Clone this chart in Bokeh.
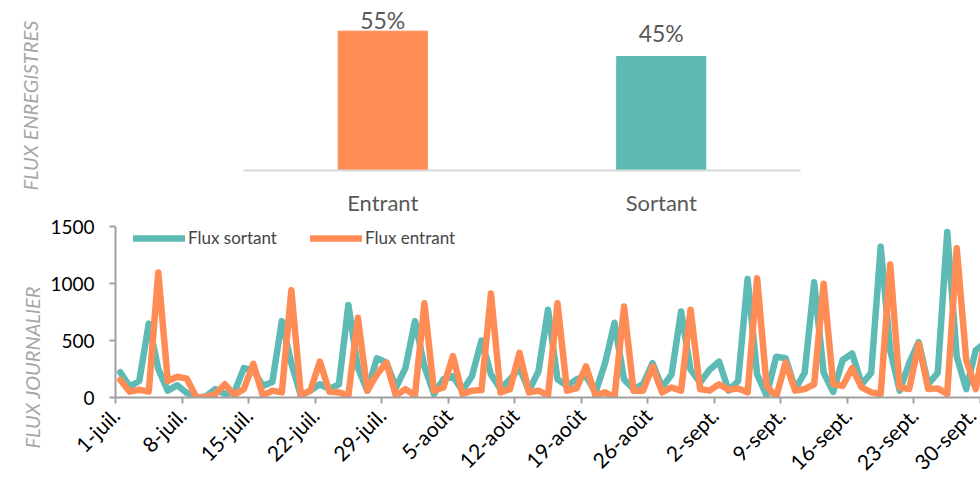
import math
import numpy as np
from bokeh.plotting import figure
from bokeh.core.properties import value
from bokeh.models import (ColumnDataSource, LabelSet, FixedTicker, Legend, Title,
                          LegendItem, Range1d, FactorRange)
from bokeh.embed import file_html
from bokeh.resources import INLINE

# ---------------- data ----------------
bar_categories = ["Entrant", "Sortant"]
bar_shares = [55, 45]
bar_labels = ["55%", "45%"]

tick_labels = ["1-juil.", "8-juil.", "15-juil.", "22-juil.", "29-juil.", "5-août",
               "12-août", "19-août", "26-août", "2-sept.", "9-sept.", "16-sept.",
               "23-sept.", "30-sept."]

flux_sortant = [222, 97, 145, 648, 250, 60, 108, 40, 0, 10, 74, 31, 45, 258, 240,
                102, 136, 670, 300, 17, 60, 116, 74, 116, 812, 260, 60, 344, 307, 88,
                258, 670, 273, 31, 159, 187, 60, 187, 500, 202, 74, 159, 258, 60, 230,
                770, 159, 102, 159, 187, 45, 301, 656, 159, 74, 116, 301, 88, 202, 755,
                244, 131, 244, 315, 60, 145, 1039, 202, 17, 358, 344, 74, 216, 1011, 216,
                50, 329, 386, 116, 216, 1323, 415, 60, 301, 486, 116, 216, 1451, 358, 74,
                415, 480]

flux_entrant = [153, 51, 68, 51, 1096, 145, 182, 165, 3, 3, 31, 116, 23, 74, 295,
                17, 60, 45, 940, 23, 60, 315, 51, 45, 17, 699, 60, 202, 307, 17,
                74, 17, 826, 60, 88, 364, 31, 60, 65, 912, 45, 74, 392, 45, 60,
                17, 826, 60, 80, 273, 17, 45, 3, 798, 60, 60, 273, 45, 88, 60,
                770, 74, 60, 116, 68, 80, 45, 1045, 102, 3, 307, 60, 74, 116, 997,
                116, 102, 258, 88, 45, 31, 1167, 88, 74, 471, 74, 80, 31, 1309, 329,
                74, 520]

ORANGE = "#FF8B55"
TEAL = "#5DBAB4"
FONT = "Lato"

# ---------------- top chart ----------------
src1 = ColumnDataSource(dict(cat=bar_categories, val=bar_shares, lbl=bar_labels,
                             col=[ORANGE, TEAL], yoff=[11, 23]))

p1 = figure(width=980, height=218, x_range=FactorRange(*bar_categories),
            y_range=Range1d(0, 67.1), output_backend="svg", toolbar_location=None,
            min_border_left=243, min_border_right=180, min_border_top=0,
            min_border_bottom=46)
p1.vbar(x="cat", top="val", width=0.32, color="col", source=src1)
p1.add_layout(LabelSet(x="cat", y="val", text="lbl", source=src1, y_offset="yoff",
                       text_align="center", text_baseline="middle",
                       text_font=value(FONT), text_font_size="23px",
                       text_color="#595959"))
p1.outline_line_color = None
p1.xgrid.visible = False
p1.ygrid.visible = False
# y axis showing only blank space: it reserves room so the side title sits far left
p1.yaxis.ticker = FixedTicker(ticks=[0])
p1.yaxis.major_label_overrides = {0: "\u2003" * 9}
p1.yaxis.major_label_text_font = FONT
p1.yaxis.major_label_text_font_size = "20px"
p1.yaxis.major_label_text_color = "#FFFFFF"
p1.yaxis.major_label_standoff = 60
p1.yaxis.axis_line_color = None
p1.yaxis.major_tick_line_color = None
p1.yaxis.minor_tick_line_color = None
p1.yaxis.major_tick_out = 0
p1.yaxis.major_tick_in = 0
p1.xaxis.axis_line_color = "#D9D9D9"
p1.xaxis.axis_line_width = 2
p1.xaxis.major_tick_line_color = None
p1.xaxis.minor_tick_line_color = None
p1.xaxis.major_label_text_font = FONT
p1.xaxis.major_label_text_font_size = "22px"
p1.xaxis.major_label_text_color = "#595959"
p1.xaxis.major_label_standoff = 12
p1.add_layout(Title(text="FLUX ENREGISTRES", align="left", offset=-20, standoff=8,
                    text_font=FONT, text_font_style="italic", text_font_size="20px",
                    text_color="#A6A6A6"), "left")

# ---------------- bottom chart ----------------
days = np.arange(len(flux_sortant)) + 0.5
tick_pos = [7 * k for k in range(len(tick_labels))]

p2 = figure(width=980, height=268, x_range=Range1d(0, 91), y_range=Range1d(0, 1500),
            output_backend="svg", toolbar_location=None,
            min_border_left=115, min_border_right=0, min_border_top=8,
            min_border_bottom=84)
r_s = p2.line(days, flux_sortant, line_color=TEAL, line_width=6.5,
              line_join="round", line_cap="round")
r_e = p2.line(days, flux_entrant, line_color=ORANGE, line_width=6.5,
              line_join="round", line_cap="round")
p2.outline_line_color = None
p2.xgrid.visible = False
p2.ygrid.visible = False

AX = "#A0A0A0"
for ax in (p2.xaxis[0], p2.yaxis[0]):
    ax.axis_line_color = AX
    ax.axis_line_width = 2
    ax.major_tick_line_color = AX
    ax.major_tick_line_width = 2
    ax.major_tick_out = 6
    ax.major_tick_in = 0
    ax.minor_tick_line_color = None
    ax.major_label_text_font = FONT
    ax.major_label_text_color = "#000000"

p2.yaxis.major_label_text_font_size = "19px"
p2.yaxis.ticker = FixedTicker(ticks=[0, 500, 1000, 1500])
p2.yaxis.major_label_standoff = 15
p2.xaxis.major_label_text_font_size = "21px"
p2.xaxis.ticker = FixedTicker(ticks=tick_pos)
p2.xaxis.major_label_overrides = {t: l for t, l in zip(tick_pos, tick_labels)}
p2.xaxis.major_label_orientation = math.pi / 4
p2.xaxis.major_label_standoff = 8

legend = Legend(items=[LegendItem(label="Flux sortant", renderers=[r_s]),
                       LegendItem(label="Flux entrant", renderers=[r_e])],
                orientation="horizontal", location=(18, 149), padding=0, margin=0,
                spacing=33, glyph_width=52, glyph_height=20, label_height=20,
                label_standoff=3, label_text_font=FONT, label_text_font_size="17px",
                border_line_color=None, background_fill_alpha=0)
p2.add_layout(legend)

p2.add_layout(Title(text="FLUX JOURNALIER", align="left", offset=-51, standoff=8,
                    text_font=FONT, text_font_style="italic", text_font_size="20px",
                    text_color="#A6A6A6"), "left")

open("out.html", "w").write(file_html([p1, p2], INLINE))
